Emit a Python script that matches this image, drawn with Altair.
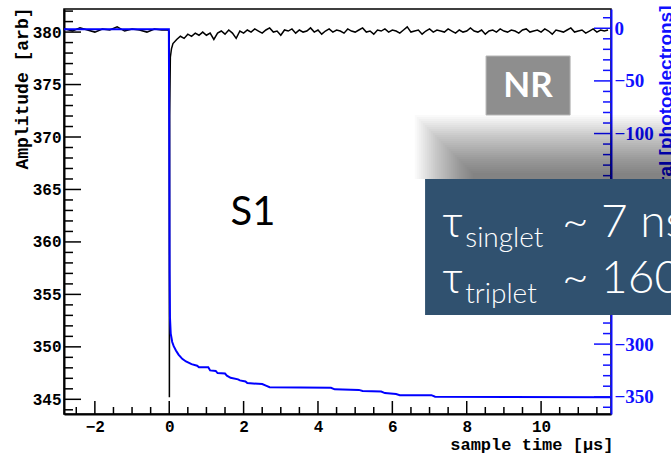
import altair as alt
import pandas as pd

# ---------------- data ----------------
# black waveform (left axis, Amplitude [arb])
pre_t = [-2.8, -2.6, -2.4, -2.2, -2.0, -1.8, -1.6, -1.4, -1.2, -1.0, -0.8, -0.6, -0.4, -0.2, -0.03]
pre_amp = [380.3, 380.1, 380.4, 380.2, 380.0, 380.3, 380.2, 380.5, 380.1, 380.3, 380.2, 380.0, 380.3, 380.2, 380.2]
spike_t = [0.0, 0.004, 0.012, 0.03, 0.06]
spike_amp = [380.0, 345.2, 372.0, 377.6, 378.4]
post_t = [round(0.1 * i, 1) for i in range(1, 119)]  # sample times 0.1 .. 11.8 us
post_amp = [
    378.9, 379.3, 379.6, 379.4, 379.8, 379.6, 379.9, 379.7, 380.0, 379.7,
    379.9, 379.3, 379.9, 380.1, 379.8, 380.2, 379.9, 379.4, 380.1, 379.9,
    380.2, 380.0, 380.3, 380.1, 379.9, 380.2, 380.4, 380.0, 380.1, 379.7,
    380.2, 380.1, 380.3, 379.9, 380.2, 380.0, 380.1, 380.4, 380.0, 380.2,
    379.8, 380.1, 380.3, 380.0, 380.2, 380.1, 379.9, 380.3, 380.1, 380.0,
    380.2, 380.4, 380.0, 380.1, 379.8, 380.2, 380.1, 380.3, 380.0, 380.2,
    380.1, 379.9, 380.2, 380.5, 380.0, 380.1, 380.2, 379.8, 380.1, 380.3,
    380.0, 380.2, 380.1, 380.0, 380.3, 380.1, 379.9, 380.2, 380.0, 380.1,
    380.4, 380.1, 380.0, 380.2, 379.8, 380.1, 380.2, 380.0, 380.3, 380.1,
    380.0, 380.2, 380.1, 379.9, 380.2, 380.3, 380.0, 380.1, 380.2, 380.0,
    380.3, 380.1, 379.8, 380.2, 380.1, 380.0, 380.2, 380.4, 380.0, 380.1,
    380.2, 379.9, 380.1, 380.3, 380.0, 380.2, 380.1, 380.2,
]

# blue integral (right axis, photoelectrons)
blue_t = [-2.83, -0.01, 0.0, 0.01, 0.02, 0.04, 0.08, 0.12, 0.18, 0.25, 0.35, 0.45,
          0.6, 0.75, 0.8, 1.05, 1.1, 1.25, 1.3, 1.5, 1.55, 1.65, 1.85, 1.9, 2.05,
          2.1, 2.5, 2.6, 2.7, 4.35, 4.45, 5.1, 5.2, 5.7, 5.8, 6.1, 6.2, 7.05, 7.15, 11.88]
blue_int = [-1, -1, -100, -230, -275, -290, -298, -302, -306, -310, -314, -316.5,
            -319, -320.5, -322, -322, -325, -325.5, -327.5, -328, -330, -332, -333.5, -334.5, -335.5,
            -337, -338, -339.5, -341, -341.5, -343, -343.5, -344.5, -345, -346.5, -347.5, -348.5, -348.5, -350, -350.5]

# axis ticks
left_major = [345, 350, 355, 360, 365, 370, 375, 380]
left_minor = [v for v in range(344, 383) if v not in left_major]
bottom_major = [-2, 0, 2, 4, 6, 8, 10]
bottom_minor = [v / 2 for v in range(-5, 24) if (v / 2) not in bottom_major]
right_major = [0, -50, -100, -150, -200, -250, -300, -350]
right_minor = [v for v in range(10, -370, -10) if v not in right_major]

# annotations (in data units: us / amplitude)
nr_box = {"t": 8.52, "t2": 10.78, "v": 377.72, "v2": 372.1}
tau_box = {"t": 6.88, "t2": 14.3, "v": 366.0, "v2": 353.03}
big_texts = ["τ", "~ 7 ns", "τ", "~ 1600 ns"]
big_t = [7.34, 10.56, 7.34, 10.56]
big_v = [360.47, 360.47, 355.13, 355.13]
sub_texts = ["singlet", "triplet"]
sub_t = [7.96, 7.96]
sub_v = [359.51, 354.17]

BLUE = "#1010ff"

black_df = pd.DataFrame({"t": pre_t + spike_t + post_t, "v": pre_amp + spike_amp + post_amp})
blue_df = pd.DataFrame({"t": blue_t, "v": blue_int})

xscale = alt.Scale(domain=[-2.83, 11.88], nice=False, zero=False)
lscale = alt.Scale(domain=[343.6, 382.2], nice=False, zero=False)
rscale = alt.Scale(domain=[-366.4, 18.3], nice=False, zero=False)

xaxis = alt.Axis(values=bottom_major, ticks=False, grid=False, domainColor="black", domainWidth=2,
                 labelFont="Liberation Mono", labelFontWeight="bold", labelFontSize=16,
                 labelColor="black", labelPadding=4, labelFlush=False,
                 title="sample time [µs]", titleFont="Liberation Mono", titleFontWeight="bold",
                 titleFontSize=17, titleColor="black", titleAnchor="end", titleAlign="right",
                 titleBaseline="middle", titleX=549, titleY=30)
laxis = alt.Axis(values=left_major, ticks=False, grid=False, domainColor="black", domainWidth=2,
                 labelFont="Liberation Mono", labelFontWeight="bold", labelFontSize=16,
                 labelColor="black", labelPadding=3,
                 title="Amplitude  [arb]", titleFont="Liberation Mono", titleFontWeight="bold",
                 titleFontSize=18, titleColor="black", titleAngle=270, titleAlign="right",
                 titleBaseline="middle", titleX=-42, titleY=-2)
raxis = alt.Axis(orient="right", values=right_major, ticks=False, grid=False, domainColor=BLUE,
                 domainWidth=2, labelFont="Liberation Sans Narrow", labelFontWeight="bold",
                 labelFontSize=19, labelColor=BLUE, labelPadding=3,
                 title="Integral [photoelectrons]", titleFont="Liberation Sans", titleFontWeight="bold",
                 titleFontSize=19, titleColor=BLUE, titleAngle=270, titleAlign="right",
                 titleBaseline="middle", titleX=54, titleY=-4)

W, H = 547, 405


def X(f="t"):
    return alt.X(f + ":Q", scale=xscale, axis=xaxis)


# ---------------- left layer ----------------
black = alt.Chart(black_df).mark_line(color="black", strokeWidth=1.5).encode(
    x=X(), y=alt.Y("v:Q", scale=lscale, axis=laxis))
lmaj = alt.Chart(pd.DataFrame({"v": left_major})).mark_rule(color="black", strokeWidth=1.5).encode(
    y=alt.Y("v:Q", scale=lscale, axis=laxis), x=alt.value(0), x2=alt.value(17))
lmin = alt.Chart(pd.DataFrame({"v": left_minor})).mark_rule(color="black", strokeWidth=1.5).encode(
    y=alt.Y("v:Q", scale=lscale, axis=laxis), x=alt.value(0), x2=alt.value(9))
bmaj = alt.Chart(pd.DataFrame({"t": bottom_major})).mark_rule(color="black", strokeWidth=1.5).encode(
    x=X(), y=alt.value(H), y2=alt.value(H - 13))
bmin = alt.Chart(pd.DataFrame({"t": bottom_minor})).mark_rule(color="black", strokeWidth=1.5).encode(
    x=X(), y=alt.value(H), y2=alt.value(H - 7))
left_layer = alt.layer(black, lmaj, lmin, bmaj, bmin)

# ---------------- right layer ----------------
blue = alt.Chart(blue_df).mark_line(color="#0000ff", strokeWidth=2).encode(
    x=X(), y=alt.Y("v:Q", scale=rscale, axis=raxis))
rmaj = alt.Chart(pd.DataFrame({"v": right_major})).mark_rule(color=BLUE, strokeWidth=1.5).encode(
    y=alt.Y("v:Q", scale=rscale, axis=raxis), x=alt.value(W), x2=alt.value(W - 17))
rmin = alt.Chart(pd.DataFrame({"v": right_minor})).mark_rule(color=BLUE, strokeWidth=1.5).encode(
    y=alt.Y("v:Q", scale=rscale, axis=raxis), x=alt.value(W), x2=alt.value(W - 8))
right_layer = alt.layer(blue, rmaj, rmin)

# ---------------- annotations ----------------
# soft shadow above the tau box: many stacked faint rectangles
sh_rows = []
for i in range(30):
    sh_rows.append({"t": 6.6 + 0.0538 * i, "t2": 14.3, "v": 372.1 - 0.1907 * i, "v2": 366.0})
shadow_df = pd.DataFrame(sh_rows)

AY = lambda f="v": alt.Y(f + ":Q", scale=lscale, axis=None)

shadow = alt.Chart(shadow_df).mark_rect(color="black", opacity=0.018).encode(
    x=X(), x2="t2:Q", y=AY(), y2="v2:Q")
nrbox = alt.Chart(pd.DataFrame([nr_box])).mark_rect(color="#8e8e8e", stroke="#b4b4b4", strokeWidth=1).encode(
    x=X(), x2="t2:Q", y=AY(), y2="v2:Q")
nrtext = alt.Chart(pd.DataFrame({"t": [9.65], "v": [374.9], "s": ["NR"]})).mark_text(
    font="Lato", fontWeight="bold", fontSize=35, color="white", align="center", baseline="middle").encode(
    x=X(), y=AY(), text="s:N")
s1 = alt.Chart(pd.DataFrame({"t": [2.25], "v": [361.6], "s": ["S1"]})).mark_text(
    font="Lato", fontSize=40, color="black", align="center", baseline="alphabetic").encode(
    x=X(), y=AY(), text="s:N")
taubox = alt.Chart(pd.DataFrame([tau_box])).mark_rect(color="#30516f").encode(
    x=X(), x2="t2:Q", y=AY(), y2="v2:Q")
bigtxt = alt.Chart(pd.DataFrame({"t": big_t, "v": big_v, "s": big_texts})).mark_text(
    font="Lato, DejaVu Sans", fontWeight=300, fontSize=46, color="white", align="left",
    baseline="alphabetic").encode(x=X(), y=AY(), text="s:N")
subtxt = alt.Chart(pd.DataFrame({"t": sub_t, "v": sub_v, "s": sub_texts})).mark_text(
    font="Lato", fontWeight=300, fontSize=28, color="white", align="left",
    baseline="alphabetic").encode(x=X(), y=AY(), text="s:N")
annot_layer = alt.layer(shadow, nrbox, nrtext, s1, taubox, bigtxt, subtxt)

chart = alt.layer(left_layer, right_layer, annot_layer).resolve_scale(y="independent").properties(
    width=W, height=H,
    padding={"left": 64, "top": 9, "right": 60, "bottom": 44},
    autosize=alt.AutoSizeParams(type="none"),
    background="white",
).configure_view(stroke="black", strokeWidth=1.5)

chart.save("out.html", embed_options={"renderer": "svg", "actions": False})
